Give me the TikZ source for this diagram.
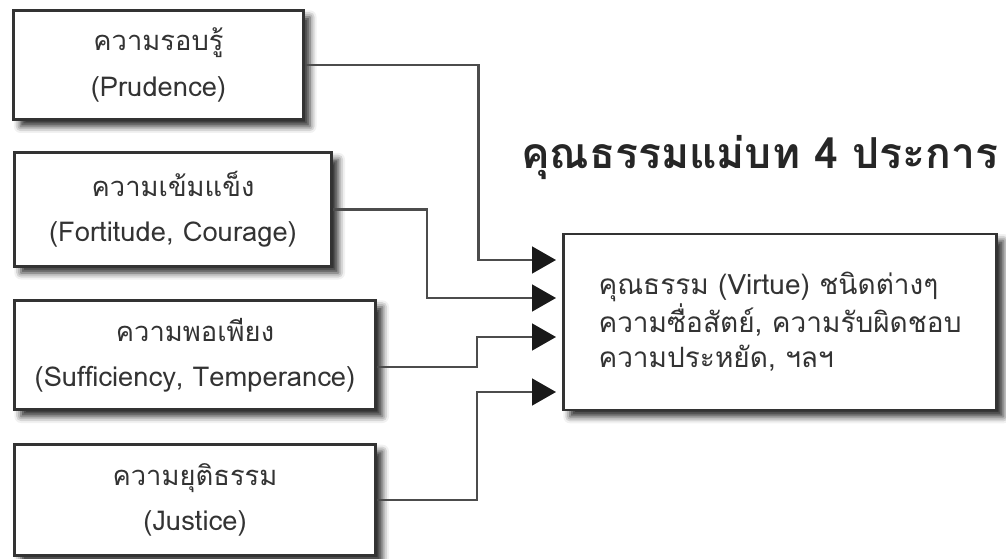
\documentclass[tikz,border=0pt]{standalone}
\usepackage{fontspec}
\setmainfont[Script=Thai]{Loma}
\usetikzlibrary
  {
    arrows.meta,              % big triangle heads
    shadows.blur,             % soft shadows under the boxes
    positioning,              % place nodes relative to other nodes
  }

\begin{document}
\begin{tikzpicture}
    [
      x=0.75pt,
      y=-0.75pt,
      virtue/.style=
        {
          rectangle,
          draw=black!80,
          fill=white,
          line width=2.2pt,
          text=black!80,
          font=\fontsize{20.5}{34}\selectfont,
          align=center,
          blur shadow={shadow xshift=5pt, shadow yshift=-5pt,
                       shadow opacity=85, shadow blur radius=5pt},
        },
      result/.style=
        {
          virtue,
          align=left,
          font=\fontsize{21}{26.5}\selectfont,
        },
      link/.style=
        {
          draw=black!70,
          line width=2pt,
          -{Triangle[length=18pt,width=20pt,color=black!90]},
        },
    ]
    \useasboundingbox (0,0) rectangle (1006,559);

    \node[virtue, minimum width=217pt, minimum height=82pt]
      (prudence)    at (158.5,65)  {ความรอบรู้\\(Prudence)};
    \node[virtue, minimum width=238pt, minimum height=85pt]
      (fortitude)   at (173,209.5) {ความเข้มแข็ง\\(Fortitude, Courage)};
    \node[virtue, minimum width=271pt, minimum height=82pt]
      (temperance)  at (195,355)   {ความพอเพียง\\(Sufficiency, Temperance)};
    \node[virtue, minimum width=271pt, minimum height=83pt]
      (justice)     at (195,500)   {ความยุติธรรม\\(Justice)};

    \node[result, minimum width=325pt, minimum height=132pt]
      (virtues)     at (780,322)
      {คุณธรรม (Virtue) ชนิดต่างๆ\\ความซื่อสัตย์, ความรับผิดชอบ\\ความประหยัด, ฯลฯ};

    \node[font=\fontsize{32}{34}\selectfont\bfseries, text=black!85,
          anchor=east]
      (title)       at (1003,158)  {คุณธรรมแม่บท 4 ประการ};

    \coordinate (in 1) at (556,260);
    \coordinate (in 2) at (556,298);
    \coordinate (in 3) at (556,337);
    \coordinate (in 4) at (556,392);

    \draw[link] (prudence.east)   -- ++(174,0) |- (in 1);
    \draw[link] (fortitude.east)  -- ++(94,0)  |- (in 2);
    \draw[link] ([yshift=-9pt]temperance.east) -- ++(100,0) |- (in 3);
    \draw[link] (justice.east)    -- ++(100,0) |- (in 4);
  \end{tikzpicture}
\end{document}
